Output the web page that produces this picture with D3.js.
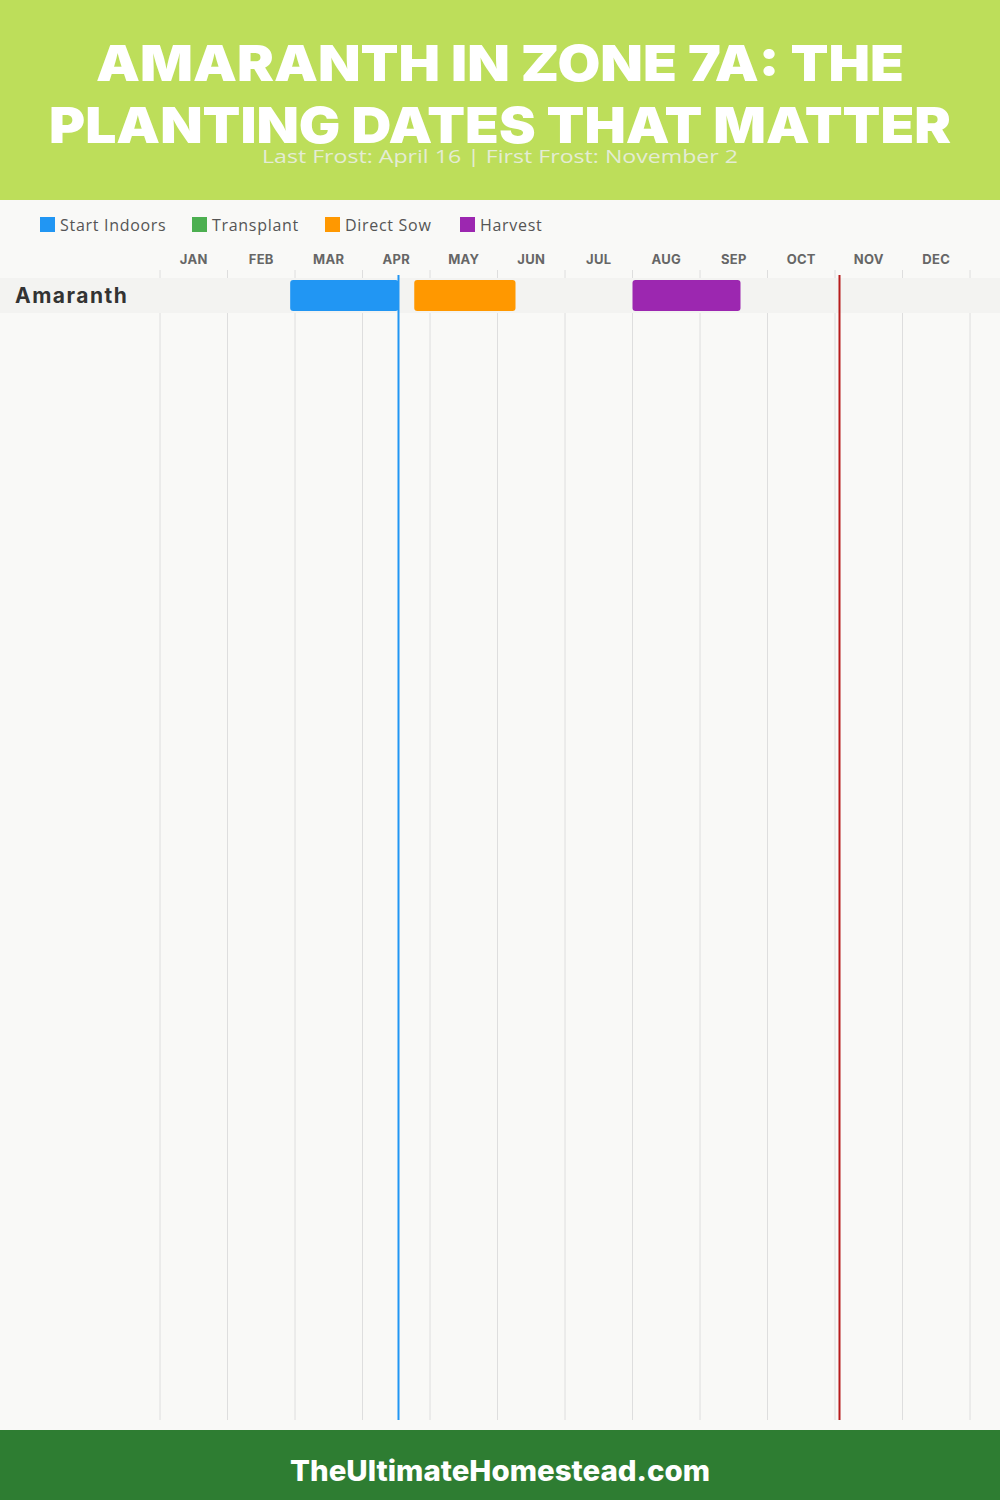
<!DOCTYPE html>
<html><head><meta charset="utf-8">
<script src="https://cdn.jsdelivr.net/npm/d3@7"></script>
<style>
html,body{margin:0;padding:0;background:#f9f9f7;}
svg{display:block;}
</style></head>
<body>
<svg id="chart" width="1000" height="1500"></svg>
<script>
// ---- data ----
const titleLines = ["AMARANTH IN ZONE 7A: THE", "PLANTING DATES THAT MATTER"];
const subtitle = "Last Frost: April 16 | First Frost: November 2";
const footerText = "TheUltimateHomestead.com";
const months = ["JAN","FEB","MAR","APR","MAY","JUN","JUL","AUG","SEP","OCT","NOV","DEC"];
const daysInMonth = [31,28,31,30,31,30,31,31,30,31,30,31];
const legendNames = ["Start Indoors","Transplant","Direct Sow","Harvest"];
const legendColors = ["#2196F3","#4CAF50","#FF9800","#9C27B0"];
const crops = ["Amaranth"];
// tasks: [crop, type, start [month,day], end [month,day]]
const taskCrop  = ["Amaranth","Amaranth","Amaranth"];
const taskType  = ["Start Indoors","Direct Sow","Harvest"];
const taskStart = [[2,26],[4,23],[7,31]];
const taskEnd   = [[4,16],[6,8],[9,18]];
const lastFrost = [4,16];
const firstFrost = [11,2];

// ---- helpers ----
const frac = ([m,d]) => (m-1) + d/daysInMonth[m-1];
const svg = d3.select("#chart");
const W = 1000;
const x = d3.scaleLinear().domain([0,12]).range([160,970]);
const color = d3.scaleOrdinal().domain(legendNames).range(legendColors);

// background
svg.append("rect").attr("width",W).attr("height",1500).attr("fill","#f9f9f7");

// header
svg.append("rect").attr("width",W).attr("height",200).attr("fill","#BDDE5A");
const titleFont = "'Inter','Lato','DejaVu Sans',sans-serif";
const tl = [{t:titleLines[0], y:81, w:808},{t:titleLines[1], y:143, w:902}];
svg.selectAll("text.title").data(tl).join("text")
  .attr("class","title")
  .attr("x",W/2).attr("y",d=>d.y)
  .attr("text-anchor","middle")
  .attr("fill","#ffffff")
  .attr("font-family",titleFont)
  .attr("font-weight",900)
  .attr("font-size",50)
  .attr("textLength",d=>d.w)
  .attr("lengthAdjust","spacingAndGlyphs")
  .text(d=>d.t);
svg.append("text")
  .attr("x",W/2).attr("y",163)
  .attr("text-anchor","middle")
  .attr("fill","#e4ecd4")
  .attr("font-family","'Open Sans','Lato',sans-serif")
  .attr("font-size",19)
  .attr("textLength",476).attr("lengthAdjust","spacingAndGlyphs")
  .text(subtitle);

// legend
const legX = [40,192,325,460];
const lg = svg.selectAll("g.leg").data(legendNames).join("g")
  .attr("class","leg")
  .attr("transform",(d,i)=>`translate(${legX[i]},217)`);
lg.append("rect").attr("width",15).attr("height",15).attr("fill",d=>color(d));
lg.append("text").attr("x",20).attr("y",13.5)
  .attr("font-family","'Open Sans','Lato',sans-serif")
  .attr("font-size",16).attr("fill","#555")
  .attr("letter-spacing",0.7)
  .text(d=>d);

// gridlines
const grid = d3.range(0,13);
svg.selectAll("line.grid").data(grid).join("line")
  .attr("class","grid")
  .attr("x1",d=>x(d)).attr("x2",d=>x(d))
  .attr("y1",270).attr("y2",1420)
  .attr("stroke","#dedede").attr("stroke-width",1);

// month labels
svg.selectAll("text.month").data(months).join("text")
  .attr("class","month")
  .attr("x",(d,i)=>x(i+0.5)).attr("y",264)
  .attr("text-anchor","middle")
  .attr("font-family","'Inter','Open Sans',sans-serif")
  .attr("font-weight",700).attr("font-size",13).attr("fill","#666")
  .attr("letter-spacing",0.3)
  .text(d=>d);

// rows
const y = d3.scaleBand().domain(crops).range([278,278+35*crops.length]);
svg.selectAll("rect.row").data(crops).join("rect")
  .attr("class","row")
  .attr("x",0).attr("width",W)
  .attr("y",d=>y(d)).attr("height",y.bandwidth())
  .attr("fill","#f3f3f1");
svg.selectAll("text.crop").data(crops).join("text")
  .attr("class","crop")
  .attr("x",15).attr("y",d=>y(d)+y.bandwidth()/2+7)
  .attr("font-family","'Inter','Open Sans',sans-serif")
  .attr("font-weight",700).attr("font-size",21).attr("fill","#333")
  .attr("letter-spacing",1.5)
  .text(d=>d);

// bars
const tasks = taskCrop.map((c,i)=>({crop:c,type:taskType[i],s:taskStart[i],e:taskEnd[i]}));
svg.selectAll("rect.bar").data(tasks).join("rect")
  .attr("class","bar")
  .attr("x",d=>x(frac(d.s)))
  .attr("width",d=>x(frac(d.e))-x(frac(d.s)))
  .attr("y",d=>y(d.crop)+2).attr("height",y.bandwidth()-4)
  .attr("rx",3).attr("ry",3)
  .attr("fill",d=>color(d.type));

// frost lines
const frost = [{d:lastFrost,c:"#2196F3"},{d:firstFrost,c:"#B71C1C"}];
svg.selectAll("line.frost").data(frost).join("line")
  .attr("class","frost")
  .attr("x1",d=>x(frac(d.d))).attr("x2",d=>x(frac(d.d)))
  .attr("y1",275).attr("y2",1420)
  .attr("stroke",d=>d.c).attr("stroke-width",2);

// footer
svg.append("rect").attr("x",0).attr("y",1430).attr("width",W).attr("height",70).attr("fill","#2E7D32");
svg.append("text")
  .attr("x",W/2).attr("y",1481)
  .attr("text-anchor","middle")
  .attr("font-family","'Inter','Open Sans',sans-serif")
  .attr("font-weight",800).attr("font-size",28).attr("fill","#fff")
  .attr("textLength",420).attr("lengthAdjust","spacingAndGlyphs")
  .text(footerText);
</script>
</body></html>
